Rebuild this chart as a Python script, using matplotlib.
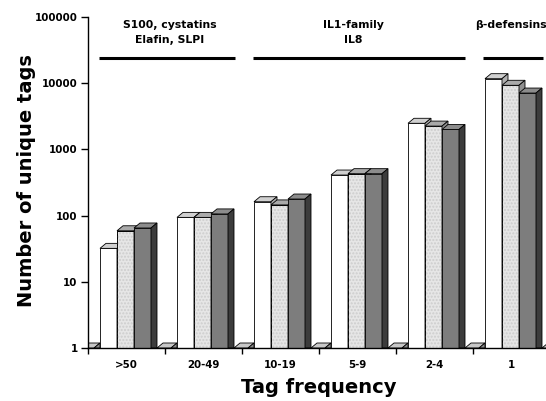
import numpy as np
import matplotlib
matplotlib.use('Agg')
import matplotlib.pyplot as plt
from matplotlib.patches import Polygon
from matplotlib.ticker import NullLocator

plt.rcParams['font.family'] = ['DejaVu Sans']
plt.rcParams['font.weight'] = 'bold'

# data
categories = ['>50', '20-49', '10-19', '5-9', '2-4', '1']
white_vals = [32, 94, 162, 410, 2480, 11700]
dotted_vals = [59, 94, 145, 430, 2250, 9300]
dark_vals = [65, 106, 178, 430, 2000, 7100]
floor_vals = [1, 1, 1, 1, 1, 1, 1]   # empty series, drawn flat on the axis

group_labels = [['S100, cystatins', 'Elafin, SLPI'], ['IL1-family', 'IL8'], ['\u03b2-defensins']]
group_spans = [(0.143, 1.909), (2.143, 4.896), (5.13, 5.91)]

fig = plt.figure(figsize=(5.46, 4.01), dpi=100)
ax = fig.add_axes([88/546, 1-348/401, 1-88/546, (348-17)/401])
ax.set_yscale('log')
ax.set_ylim(1, 1e5)
ax.set_xlim(0, 458/77)

px = 1/77.0                  # one pixel in group units
dx = 6*px                    # depth of the 3d effect
fy = 10**(5/66.2)            # depth upwards, as factor on log axis
bw = 17*px


def bar3d(x0, w, h, front, top, side, hatch=None):
    ax.bar(x0, h-1, width=w, bottom=1, align='edge', color=front,
           edgecolor='black', linewidth=0.6)
    if hatch:
        ax.bar(x0, h-1, width=w, bottom=1, align='edge', fill=False,
               hatch=hatch, edgecolor='#cdcdcd', linewidth=0)
        ax.bar(x0, h-1, width=w, bottom=1, align='edge', fill=False,
               edgecolor='black', linewidth=0.6)
    ax.add_patch(Polygon([(x0, h), (x0+w, h), (x0+w+dx, h*fy), (x0+dx, h*fy)],
                         closed=True, facecolor=top, edgecolor='black', linewidth=0.6))
    ax.add_patch(Polygon([(x0+w, 1), (x0+w, h), (x0+w+dx, h*fy), (x0+w+dx, 1)],
                         closed=True, facecolor=side, edgecolor='black', linewidth=0.6))


for i in range(len(floor_vals)):
    bar3d(i-8*px, 14*px, floor_vals[i], '#c8c8c8', '#c8c8c8', '#8a8a8a')

for i in range(len(categories)):
    x = i + 12*px
    bar3d(x, bw, white_vals[i], 'white', '#d0d0d0', '#b0b0b0')
    bar3d(x+bw, bw, dotted_vals[i], '#e6e6e6', '#aaaaaa', '#909090', hatch='.....')
    bar3d(x+2*bw, bw, dark_vals[i], '#7d7d7d', '#8c8c8c', '#3c3c3c')

# group annotations
line_y = 23800
for (a, b), lab in zip(group_spans, group_labels):
    ax.plot([a, b], [line_y, line_y], color='black', lw=2.2, solid_capstyle='butt')
cx = [(169.7-88)/77, (353-88)/77, (511-88)/77]
for c, lab in zip(cx, group_labels):
    ax.text(c, 75700, lab[0], ha='center', va='center', fontsize=7.8, clip_on=False)
    if len(lab) > 1:
        ax.text(c, 44200, lab[1], ha='center', va='center', fontsize=7.8)

ax.spines['top'].set_visible(False)
ax.spines['right'].set_visible(False)
ax.spines['left'].set_linewidth(1.0)
ax.spines['bottom'].set_linewidth(1.0)

ax.set_yticks([1, 10, 100, 1000, 10000, 100000])
ax.set_yticklabels(['1', '10', '100', '1000', '10000', '100000'])
ax.yaxis.set_minor_locator(NullLocator())
ax.tick_params(axis='y', direction='out', length=5, width=1, pad=2.5, labelsize=7.4)

ax.set_xticks(np.arange(len(categories)))
ax.set_xticklabels([])
ax.set_xticks(np.arange(len(categories))+0.5, minor=True)
ax.set_xticklabels(categories, minor=True)
ax.tick_params(axis='x', which='major', direction='out', length=4, width=1)
ax.tick_params(axis='x', which='minor', length=0, pad=9, labelsize=7.4)

fig.text(319/546, 1-393.3/401, 'Tag frequency', ha='center', va='baseline', fontsize=14)
fig.text(32/546, 1-180.5/401, 'Number of unique tags', ha='center', va='baseline',
         rotation=90, rotation_mode='anchor', fontsize=14)

fig.savefig('out.png', dpi=100)
